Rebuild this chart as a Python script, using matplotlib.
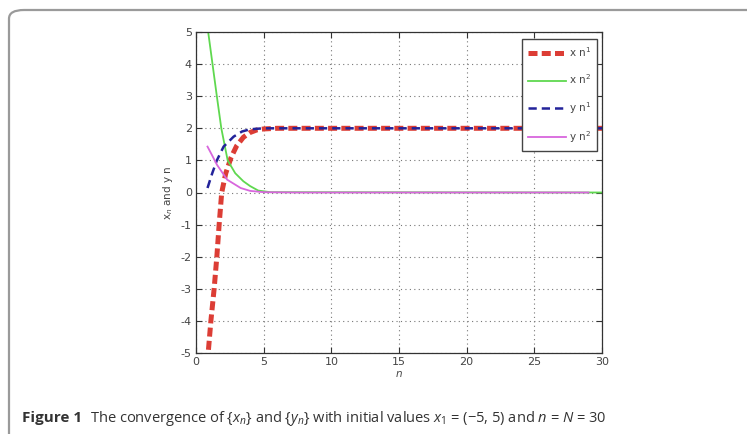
import matplotlib
matplotlib.use("Agg")
import matplotlib.pyplot as plt
from matplotlib.patches import FancyBboxPatch

plt.rcParams['font.family'] = ['DejaVu Sans']
plt.rcParams['axes.unicode_minus'] = False
plt.rcParams['mathtext.fontset'] = 'custom'
plt.rcParams['mathtext.rm'] = 'Open Sans'
plt.rcParams['mathtext.it'] = 'Open Sans:italic'

# Iterates of the two sequences (n may be fractional: smoothed curve samples)
n_x1 = [0.92, 1.1, 1.34, 1.54, 1.71, 1.9, 2.2, 2.6, 3.0, 3.5, 4.0, 4.5, 5.0, 6.0, 30.0]
x1 = [-4.9, -4.0, -3.0, -2.0, -1.0, 0.0, 0.6, 1.1, 1.45, 1.72, 1.87, 1.95, 1.98, 2.0, 2.0]

n_x2 = [0.9, 1.22, 1.54, 1.87, 2.34, 2.55, 2.9, 3.5, 4.0, 4.6, 5.5, 30.0]
x2 = [5.0, 4.0, 3.0, 2.0, 1.0, 0.85, 0.6, 0.35, 0.2, 0.06, 0.01, 0.0]

n_y1 = [0.85, 1.2, 1.54, 2.04, 2.78, 3.4, 4.0, 5.0, 30.0]
y1 = [0.14, 0.6, 1.0, 1.43, 1.74, 1.9, 1.97, 2.0, 2.0]

n_y2 = [0.85, 1.2, 1.54, 2.3, 3.3, 4.0, 5.0, 7.5, 29.0]
y2 = [1.43, 1.15, 0.87, 0.4, 0.14, 0.05, 0.01, 0.0, 0.0]

series_labels = ['x n$^{1}$', 'x n$^{2}$', 'y n$^{1}$', 'y n$^{2}$']
x_ticks = [0, 5, 10, 15, 20, 25, 30]
y_ticks = [-5, -4, -3, -2, -1, 0, 1, 2, 3, 4, 5]

W, H = 747, 434
fig = plt.figure(figsize=(W / 100, H / 100), dpi=100)
fig.patch.set_facecolor('white')

# rounded card frame around the figure
card = FancyBboxPatch((9 / W, -0.2), 1.2, 1 - 10 / H + 0.2,
                      boxstyle="round,pad=0,rounding_size=0.02",
                      transform=fig.transFigure, facecolor='none',
                      edgecolor='#9a9a9a', linewidth=1.6, zorder=0)
fig.patches.append(card)

ax = fig.add_axes([196 / W, 1 - 353 / H, 406 / W, 321 / H])

ax.plot(n_x1, x1, color='#dc3d35', lw=3.6, dashes=(1.8, 0.85), label=series_labels[0])
ax.plot(n_x2, x2, color='#5fd84f', lw=1.3, label=series_labels[1])
ax.plot(n_y1, y1, color='#23239a', lw=1.8, dashes=(3.3, 2.0), label=series_labels[2])
ax.plot(n_y2, y2, color='#d866dd', lw=1.3, label=series_labels[3])

ax.set_xlim(0, 30)
ax.set_ylim(-5, 5)
ax.set_xticks(x_ticks)
ax.set_yticks(y_ticks)
ax.grid(True, color='#777777', linestyle=(0, (1, 3)), linewidth=0.8)
ax.tick_params(direction='in', top=True, right=True, labelsize=8,
               labelcolor='#444444', color='#333333', length=4, pad=3)
for s in ax.spines.values():
    s.set_color('#333333')
    s.set_linewidth(0.9)

ax.set_xlabel('n', fontsize=7.5, color='#444444', style='italic', labelpad=1)
ax.set_ylabel('x$_n$ and y n', fontsize=7.5, color='#444444', labelpad=4,
              family='DejaVu Sans')
ax.yaxis.label.set_math_fontfamily('dejavusans')

leg = ax.legend(loc='upper right', bbox_to_anchor=(0.988, 0.978), borderaxespad=0,
                fontsize=7.5, labelspacing=1.3, handlelength=3.6, handletextpad=0.3,
                fancybox=False, framealpha=1, edgecolor='#444444',
                borderpad=0.6)
leg.get_frame().set_linewidth(1.0)
for t in leg.get_texts():
    t.set_color('#444444')
    t.set_math_fontfamily('dejavusans')

# caption
fig.text(22 / W, 1 - 418 / H, 'Figure 1', fontsize=11, fontweight='bold',
         family='Open Sans', color='#333333', va='center')
fig.text(90 / W, 1 - 418 / H,
         'The convergence of {$x_n$} and {$y_n$} with initial values $x_1$ = (\u22125, 5) and $n$ = $N$ = 30',
         fontsize=10.5, family='Open Sans', color='#333333', va='center')

fig.savefig('out.png', dpi=100, facecolor='white')
